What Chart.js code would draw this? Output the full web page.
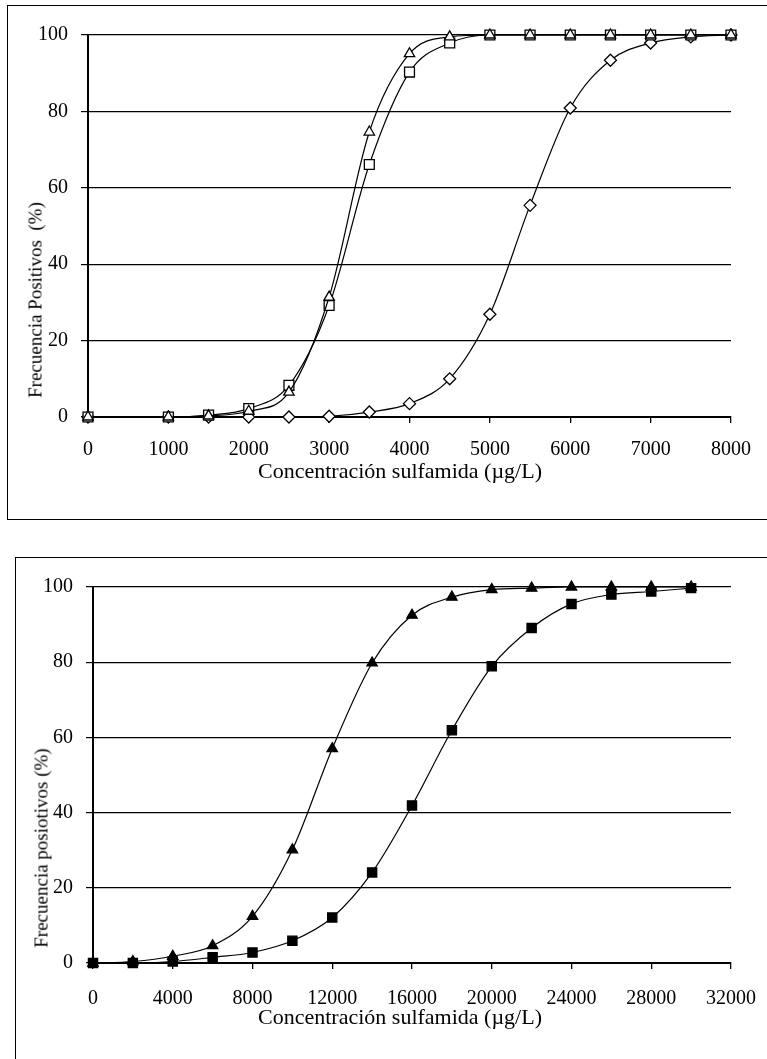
<!DOCTYPE html>
<html>
<head>
<meta charset="utf-8">
<script src="https://cdn.jsdelivr.net/npm/chart.js@4.4.0/dist/chart.umd.min.js"></script>
<style>
  html, body { margin: 0; padding: 0; background: #fff; }
  body { width: 767px; height: 1059px; position: relative; overflow: hidden;
         font-family: "Liberation Serif", "Times New Roman", serif; }
  .frame { position: absolute; border: 1.5px solid #000; box-sizing: border-box; }
  #f1 { left: 7px; top: 5px; width: 790px; height: 515px; }
  #f2 { left: 15px; top: 557px; width: 790px; height: 540px; }
  canvas { position: absolute; left: 0; }
  #c1 { top: 0; }
  #c2 { top: 540px; }
  .ttl { position: absolute; color: #000; white-space: pre; font-size: 22px; line-height: 1; }
  .xt { transform: translate(-50%, -50%); }
  .yt { transform: translate(-50%, -50%) rotate(-90deg); font-size: 19px; }
</style>
</head>
<body>
<div class="frame" id="f1"></div>
<div class="frame" id="f2"></div>
<canvas id="c1" width="767" height="530"></canvas>
<canvas id="c2" width="767" height="519"></canvas>
<div class="ttl xt" style="left:400px;top:471px;">Concentración sulfamida (µg/L)</div>
<div class="ttl yt" style="left:35px;top:300px;">Frecuencia Positivos  (%)</div>
<div class="ttl xt" style="left:400px;top:1017px;">Concentración sulfamida (µg/L)</div>
<div class="ttl yt" style="left:41px;top:848px;">Frecuencia posiotivos (%)</div>
<script>
// Upper panel: three sulfonamides, frequency of positive results (%)
const concA = [0, 1000, 1500, 2000, 2500, 3000, 3500, 4000, 4500, 5000, 5500, 6000, 6500, 7000, 7500, 8000];
const triA  = [0, 0, 0.3, 1.5, 6.5, 31.4, 74.6, 95.1, 99.5, 100, 100, 100, 100, 100, 100, 100];
const sqA   = [0, 0, 0.5, 2.2, 8.3, 29.2, 66.1, 90.3, 97.9, 100, 100, 100, 100, 100, 100, 100];
const diaA  = [0, 0, 0, 0, 0, 0.2, 1.3, 3.5, 10, 26.9, 55.4, 80.9, 93.4, 97.9, 99.5, 100];
const ticksXA = [0, 1000, 2000, 3000, 4000, 5000, 6000, 7000, 8000];

// Lower panel: two sulfonamides
const concB = [0, 2000, 4000, 6000, 8000, 10000, 12000, 14000, 16000, 18000, 20000, 22000, 24000, 26000, 28000, 30000];
const triB  = [0, 0.4, 1.8, 4.6, 12.4, 30.1, 57, 79.8, 92.5, 97.3, 99.3, 99.7, 100, 100, 100, 100];
const sqB   = [0, 0, 0.4, 1.5, 2.8, 5.9, 12.1, 24.1, 41.9, 61.9, 78.9, 89.1, 95.5, 98, 98.8, 99.7];
const ticksXB = [0, 4000, 8000, 12000, 16000, 20000, 24000, 28000, 32000];

const ticksY = [0, 20, 40, 60, 80, 100];

const FONT = { family: '"Liberation Serif", "Times New Roman", serif', size: 20 };

function pts(xs, ys) { return xs.map((x, i) => ({ x: x, y: ys[i] })); }

function series(xs, ys, style, radius, fill) {
  return {
    data: pts(xs, ys),
    borderColor: '#000',
    borderWidth: 1.2,
    cubicInterpolationMode: 'monotone',
    pointStyle: style,
    pointRadius: radius,
    pointHoverRadius: radius,
    pointBackgroundColor: fill,
    pointBorderColor: '#000',
    pointBorderWidth: 1.3,
    clip: false,
    fill: false
  };
}

function makeChart(id, datasets, xTicks, xMax, axisW, pad, labelPad) {
  return new Chart(document.getElementById(id), {
    type: 'line',
    data: { datasets: datasets },
    options: {
      responsive: false,
      animation: false,
      devicePixelRatio: 1,
      layout: { padding: pad },
      plugins: { legend: { display: false }, tooltip: { enabled: false } },
      scales: {
        x: {
          type: 'linear', min: 0, max: xMax,
          afterBuildTicks: s => { s.ticks = xTicks.map(v => ({ value: v })); },
          afterFit: s => { s.height = 60; s.paddingLeft = 0; s.paddingRight = 0; },
          grid: { display: true, drawOnChartArea: false, drawTicks: true, tickLength: 6, color: '#000', lineWidth: 1.3 },
          border: { display: true, color: '#000', width: 2 },
          ticks: { color: '#000', font: FONT, padding: labelPad, maxRotation: 0, autoSkip: false,
                   callback: v => String(v) }
        },
        y: {
          min: 0, max: 100,
          afterBuildTicks: s => { s.ticks = ticksY.map(v => ({ value: v })); },
          afterFit: s => { s.width = axisW; },
          grid: { display: true, drawOnChartArea: true, drawTicks: true, tickLength: 7, color: '#000', lineWidth: 1.2 },
          border: { display: true, color: '#000', width: 2 },
          ticks: { color: '#000', font: FONT, padding: 13, callback: v => String(v) }
        }
      }
    }
  });
}

makeChart('c1', [
  series(concA, triA, 'triangle', 6, '#fff'),
  series(concA, sqA, 'rect', 7, '#fff'),
  series(concA, diaA, 'rectRot', 6, '#fff')
], ticksXA, 8000, 88, { top: 35, right: 36, left: 0, bottom: 53 }, 15);

makeChart('c2', [
  series(concB, triB, 'triangle', 6, '#000'),
  series(concB, sqB, 'rect', 6.5, '#000')
], ticksXB, 32000, 93, { top: 47, right: 36, left: 0, bottom: 36 }, 18);
</script>
</body>
</html>
